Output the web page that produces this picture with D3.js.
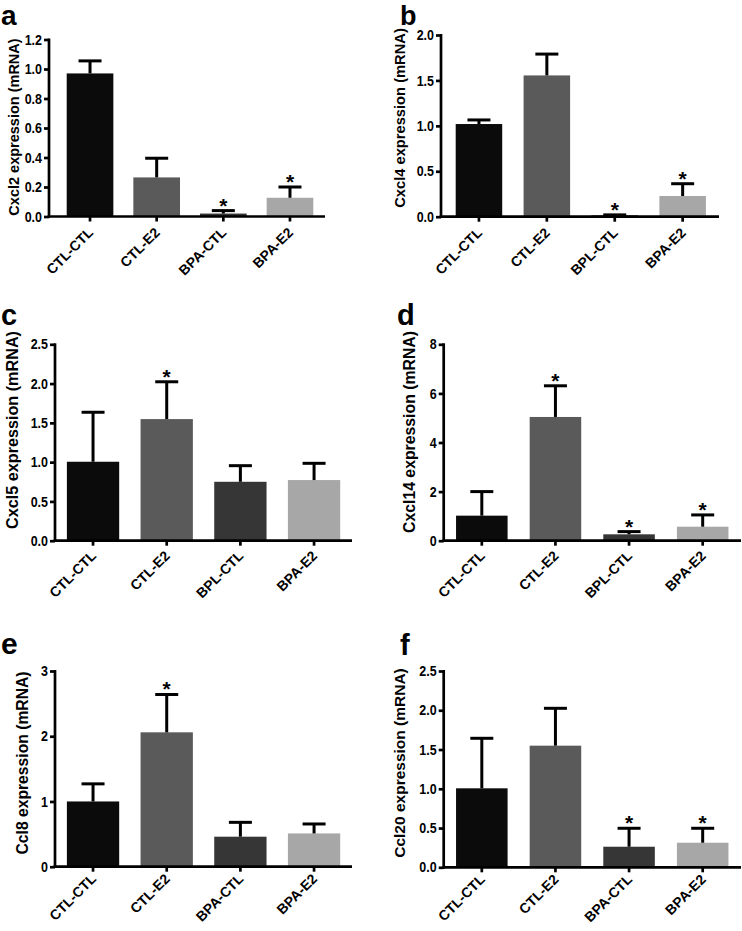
<!DOCTYPE html>
<html>
<head>
<meta charset="utf-8">
<script src="https://cdn.jsdelivr.net/npm/d3@7"></script>
<style>
  html, body { margin: 0; padding: 0; background: #fff; }
  svg text { font-family: "Liberation Sans", Arial, sans-serif; font-weight: bold; fill: #000; }
</style>
</head>
<body>
<svg id="chart" width="742" height="931"></svg>
<script>
// ---------------- data ----------------
const groupsBPA = ["CTL-CTL", "CTL-E2", "BPA-CTL", "BPA-E2"];
const groupsBPL = ["CTL-CTL", "CTL-E2", "BPL-CTL", "BPA-E2"];
const barColors = ["#0b0b0b", "#5a5a5a", "#363636", "#a7a7a7"];

const cxcl2Mean = [0.97, 0.265, 0.02, 0.127];
const cxcl2Err  = [0.085, 0.13, 0.02, 0.073];
const cxcl2Star = [false, false, true, true];
const cxcl2Ticks = [0, 0.2, 0.4, 0.6, 0.8, 1.0, 1.2];

const cxcl4Mean = [1.02, 1.555, 0.015, 0.228];
const cxcl4Err  = [0.045, 0.235, 0.005, 0.135];
const cxcl4Star = [false, false, true, true];
const cxcl4Ticks = [0, 0.5, 1.0, 1.5, 2.0];

const cxcl5Mean = [1.005, 1.548, 0.75, 0.772];
const cxcl5Err  = [0.63, 0.475, 0.205, 0.213];
const cxcl5Star = [false, true, false, false];
const cxcl5Ticks = [0, 0.5, 1.0, 1.5, 2.0, 2.5];

const cxcl14Mean = [1.02, 5.04, 0.26, 0.57];
const cxcl14Err  = [0.98, 1.27, 0.11, 0.48];
const cxcl14Star = [false, true, true, true];
const cxcl14Ticks = [0, 2, 4, 6, 8];

const ccl8Mean = [1.0, 2.06, 0.46, 0.51];
const ccl8Err  = [0.27, 0.58, 0.22, 0.145];
const ccl8Star = [false, true, false, false];
const ccl8Ticks = [0, 1, 2, 3];

const ccl20Mean = [1.006, 1.549, 0.262, 0.313];
const ccl20Err  = [0.637, 0.476, 0.235, 0.184];
const ccl20Star = [false, false, true, true];
const ccl20Ticks = [0, 0.5, 1.0, 1.5, 2.0, 2.5];

// ---------------- panels (layout) ----------------
const panels = [
  { letter: "a", label: "Cxcl2 expression (mRNA)", groups: groupsBPA, mean: cxcl2Mean, err: cxcl2Err, star: cxcl2Star, ticks: cxcl2Ticks, fmt: ".1f",
    axisX: 49, y0: 216.5, yTop: 39.5, xr: [56.7, 323.3], axisEnd: 325, pad: 0.3, xlDy: 17,
    letterPos: [1, 25.4], letterSize: 28, labelPos: [13.7, 127], labelSize: 14.5 },
  { letter: "b", label: "Cxcl4 expression (mRNA)", groups: groupsBPL, mean: cxcl4Mean, err: cxcl4Err, star: cxcl4Star, ticks: cxcl4Ticks, fmt: ".1f",
    axisX: 441, y0: 216.7, yTop: 35, xr: [445, 716.6], axisEnd: 719, pad: 0.315, xlDy: 17,
    letterPos: [400, 24.6], letterSize: 27, labelPos: [400, 118], labelSize: 14.7 },
  { letter: "c", label: "Cxcl5 expression (mRNA)", groups: groupsBPL, mean: cxcl5Mean, err: cxcl5Err, star: cxcl5Star, ticks: cxcl5Ticks, fmt: ".1f",
    axisX: 55, y0: 540.7, yTop: 344.3, xr: [56.2, 350.9], axisEnd: 352, pad: 0.29, xlDy: 16,
    letterPos: [1, 325], letterSize: 29, labelPos: [11.7, 430], labelSize: 16.2 },
  { letter: "d", label: "Cxcl14 expression (mRNA)", groups: groupsBPL, mean: cxcl14Mean, err: cxcl14Err, star: cxcl14Star, ticks: cxcl14Ticks, fmt: "d",
    axisX: 443.7, y0: 540.7, yTop: 344.3, xr: [445, 739.5], axisEnd: 741, pad: 0.3, xlDy: 16,
    letterPos: [397, 325], letterSize: 29, labelPos: [409, 432], labelSize: 15.8 },
  { letter: "e", label: "Ccl8 expression (mRNA)", groups: groupsBPA, mean: ccl8Mean, err: ccl8Err, star: ccl8Star, ticks: ccl8Ticks, fmt: "d",
    axisX: 55, y0: 866.7, yTop: 671, xr: [56.2, 350.9], axisEnd: 352, pad: 0.29, xlDy: 13,
    letterPos: [1, 654], letterSize: 30, labelPos: [22.5, 763], labelSize: 15.7 },
  { letter: "f", label: "Ccl20 expression (mRNA)", groups: groupsBPA, mean: ccl20Mean, err: ccl20Err, star: ccl20Star, ticks: ccl20Ticks, fmt: ".1f",
    axisX: 443.7, y0: 867.3, yTop: 671, xr: [445, 739.5], axisEnd: 741, pad: 0.3, xlDy: 13,
    letterPos: [400, 655], letterSize: 29, labelPos: [399.3, 763], labelSize: 15.5 }
];

const svg = d3.select("#chart");

function condense(sel, factor) {
  sel.each(function () {
    const len = this.getComputedTextLength();
    d3.select(this).attr("textLength", len * factor).attr("lengthAdjust", "spacingAndGlyphs");
  });
}

panels.forEach(p => {
  const g = svg.append("g");
  const maxTick = p.ticks[p.ticks.length - 1];
  const y = d3.scaleLinear().domain([0, maxTick]).range([p.y0, p.yTop]);
  const x = d3.scaleBand().domain(p.groups).range(p.xr).paddingInner(p.pad).paddingOuter(p.pad / 2);

  // panel letter
  g.append("text").attr("x", p.letterPos[0]).attr("y", p.letterPos[1])
    .style("font-size", p.letterSize + "px").text(p.letter);

  // y label
  g.append("text")
    .attr("transform", `translate(${p.labelPos[0]},${p.labelPos[1]}) rotate(-90)`)
    .attr("text-anchor", "middle").attr("dy", "0.36em")
    .style("font-size", p.labelSize + "px").text(p.label);

  // bars
  g.selectAll("rect.bar").data(p.groups).join("rect")
    .attr("class", "bar")
    .attr("x", d => x(d)).attr("width", x.bandwidth())
    .attr("y", (d, i) => y(p.mean[i]))
    .attr("height", (d, i) => p.y0 - y(p.mean[i]))
    .attr("fill", (d, i) => barColors[i]);

  // error bars
  const capHalf = 11.5;
  p.groups.forEach((d, i) => {
    const cx = x(d) + x.bandwidth() / 2;
    const top = y(p.mean[i] + p.err[i]);
    g.append("line").attr("x1", cx).attr("x2", cx)
      .attr("y1", y(p.mean[i])).attr("y2", top)
      .attr("stroke", "#000").attr("stroke-width", 3);
    g.append("line").attr("x1", cx - capHalf).attr("x2", cx + capHalf)
      .attr("y1", top).attr("y2", top)
      .attr("stroke", "#000").attr("stroke-width", 3);
    if (p.star[i]) {
      g.append("text").attr("x", cx).attr("y", top + 2)
        .attr("text-anchor", "middle").style("font-size", "21px").text("*");
    }
  });

  // y axis
  const yAxis = d3.axisLeft(y).tickValues(p.ticks).tickFormat(d3.format(p.fmt))
    .tickSizeInner(5).tickSizeOuter(0).tickPadding(2);
  const ya = g.append("g").attr("transform", `translate(${p.axisX},0)`).call(yAxis);
  ya.select(".domain").remove();
  ya.append("line").attr("x1", 0).attr("x2", 0).attr("y1", p.yTop - 1).attr("y2", p.y0 + 1.3)
    .attr("stroke", "#000").attr("stroke-width", 2.7);
  ya.selectAll(".tick line").attr("stroke", "#000").attr("stroke-width", 2.7);
  const yt = ya.selectAll(".tick text").style("font-size", "14.5px").attr("fill", "#000")
    .style("font-family", "'Liberation Sans', Arial, sans-serif").style("font-weight", "bold");
  condense(yt, 0.86);

  // x axis
  const xAxis = d3.axisBottom(x).tickSizeInner(5).tickSizeOuter(0).tickPadding(3);
  const xa = g.append("g").attr("transform", `translate(0,${p.y0})`).call(xAxis);
  xa.select(".domain").remove();
  xa.append("line").attr("x1", p.axisX - 1.3).attr("x2", p.axisEnd).attr("y1", 0).attr("y2", 0)
    .attr("stroke", "#000").attr("stroke-width", 2.7);
  xa.selectAll(".tick line").attr("stroke", "#000").attr("stroke-width", 2.7);
  xa.selectAll(".tick text")
    .style("font-size", "14px").attr("fill", "#000")
    .style("font-family", "'Liberation Sans', Arial, sans-serif").style("font-weight", "bold")
    .attr("text-anchor", "end")
    .attr("dy", null).attr("y", null)
    .attr("transform", `translate(4,${p.xlDy}) rotate(-45)`);
});
</script>
</body>
</html>
